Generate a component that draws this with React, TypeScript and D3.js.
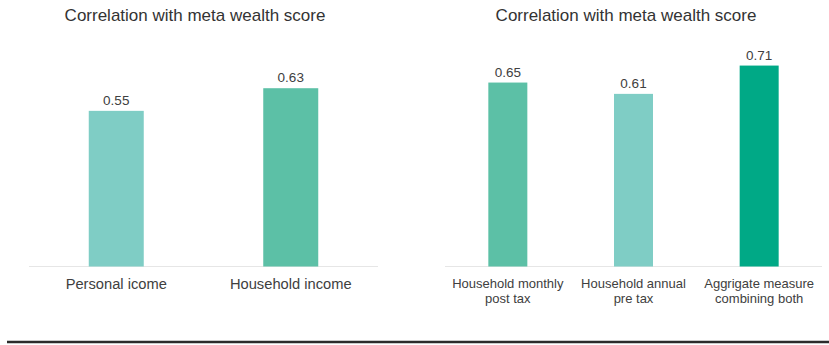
import React from "react";
import * as d3 from "d3";

const leftCategories = ["Personal icome", "Household income"];
const leftValues = [0.55, 0.63];
const leftColors = ["#7fcdc5", "#5cc0a6"];

const rightCategories = [
  ["Household monthly", "post tax"],
  ["Household annual", "pre tax"],
  ["Aggrigate measure", "combining both"],
];
const rightValues = [0.65, 0.61, 0.71];
const rightColors = ["#5cc0a6", "#7fcdc5", "#00a986"];

const titleText = "Correlation with meta wealth score";
const FONT = "Liberation Sans, Arial, sans-serif";

const baseY = 266.5;
const y = d3.scaleLinear().domain([0, 1]).range([baseY, baseY - 283]);

function Panel({
  x0, x1, cats, values, colors, barW, titleX, labelSize, multi,
}: any) {
  const x = d3.scaleBand<number>().domain(values.map((_: any, i: number) => i)).range([x0, x1]);
  return (
    <g>
      <text x={titleX} y={21} textAnchor="middle" fontSize={17} fill="#333" fontFamily={FONT}>
        {titleText}
      </text>
      <line x1={x0} x2={x1} y1={baseY} y2={baseY} stroke="#e6e6e6" strokeWidth={1} />
      {values.map((v: number, i: number) => {
        const cx = (x(i) as number) + x.bandwidth() / 2;
        return (
          <g key={i}>
            <rect x={cx - barW / 2} y={y(v)} width={barW} height={baseY - y(v)} fill={colors[i]} />
            <text x={cx} y={y(v) - 6} textAnchor="middle" fontSize={13.5} fill="#404040" fontFamily={FONT}>
              {v.toFixed(2)}
            </text>
            {multi ? (
              (cats[i] as string[]).map((line: string, j: number) => (
                <text key={j} x={cx} y={287.5 + j * 15} textAnchor="middle" fontSize={labelSize} fill="#404040" fontFamily={FONT}>
                  {line}
                </text>
              ))
            ) : (
              <text x={cx} y={288.5} textAnchor="middle" fontSize={labelSize} fill="#404040" fontFamily={FONT}>
                {cats[i]}
              </text>
            )}
          </g>
        );
      })}
    </g>
  );
}

export default function App() {
  return (
    <svg width={829} height={345} style={{ position: "absolute", left: 0, top: 0, background: "#fff" }}>
      <rect width={829} height={345} fill="#fff" />
      <Panel x0={29} x1={378} cats={leftCategories} values={leftValues} colors={leftColors} barW={55} titleX={195} labelSize={14.7} multi={false} />
      <Panel x0={445} x1={822} cats={rightCategories} values={rightValues} colors={rightColors} barW={39} titleX={626} labelSize={13} multi={true} />
      <line x1={7} x2={829} y1={342} y2={342} stroke="#2b2b2b" strokeWidth={2.5} />
    </svg>
  );
}
